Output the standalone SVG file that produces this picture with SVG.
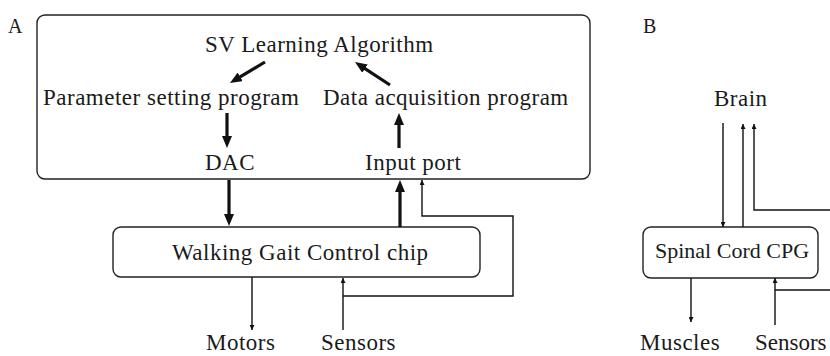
<svg xmlns="http://www.w3.org/2000/svg" width="830" height="356" viewBox="0 0 830 356">
  <defs>
    <style>
      .box { fill: none; stroke: #222; stroke-width: 1.4; }
      .lbl { font-family: "Liberation Serif", "Times New Roman", serif; font-size: 23px; letter-spacing: 0.5px; fill: #1a1a1a; }
      .tag { font-family: "Liberation Serif", "Times New Roman", serif; font-size: 20px; fill: #1a1a1a; }
      .thick { fill: none; stroke: #111; stroke-width: 3.2; }
      .thin { fill: none; stroke: #111; stroke-width: 1.4; }
    </style>
    <marker id="bigHead" markerUnits="userSpaceOnUse" viewBox="0 0 12 10" refX="6" refY="5" markerWidth="12" markerHeight="10" orient="auto">
      <path d="M0,0 L12,5 L0,10 Z" fill="#111"/>
    </marker>
    <marker id="smallHead" markerUnits="userSpaceOnUse" viewBox="0 0 5 5" refX="5" refY="2.5" markerWidth="5" markerHeight="5" orient="auto">
      <path d="M0,0 L5,2.5 L0,5 Z" fill="#111"/>
    </marker>
  </defs>

  <!-- Panel A -->
  <text class="tag" x="8" y="33">A</text>

  <g id="host">
    <rect class="box" x="37" y="15" width="553" height="164" rx="8"/>
    <text class="lbl" x="205" y="52">SV Learning Algorithm</text>
    <text class="lbl" x="43" y="105">Parameter setting program</text>
    <text class="lbl" x="323" y="105">Data acquisition program</text>
    <text class="lbl" x="205" y="170">DAC</text>
    <text class="lbl" x="365" y="170">Input port</text>
  </g>

  <g id="chip">
    <rect class="box" x="113" y="227" width="367" height="50" rx="8"/>
    <text class="lbl" x="172" y="260">Walking Gait Control chip</text>
  </g>

  <g id="motors">
    <text class="lbl" x="206" y="350">Motors</text>
  </g>
  <g id="sensorsA">
    <text class="lbl" x="321" y="350">Sensors</text>
  </g>

  <!-- Panel B -->
  <text class="tag" x="643" y="33">B</text>

  <g id="brain">
    <text class="lbl" x="714" y="106">Brain</text>
  </g>
  <g id="cpg">
    <rect class="box" x="643" y="227" width="175" height="51" rx="8"/>
    <text class="lbl" x="655" y="258" style="font-size:22px;letter-spacing:0">Spinal Cord CPG</text>
  </g>
  <g id="muscles">
    <text class="lbl" x="640" y="350">Muscles</text>
  </g>
  <g id="sensorsB">
    <text class="lbl" x="755" y="350" style="letter-spacing:0">Sensors</text>
  </g>

  <g id="connectors">
    <!-- inside the host -->
    <line class="thick" x1="265" y1="62" x2="235.1" y2="79.9" marker-end="url(#bigHead)"/>
    <line class="thick" x1="390" y1="85" x2="360" y2="65.3" marker-end="url(#bigHead)"/>
    <line class="thick" x1="227" y1="113" x2="227" y2="142" marker-end="url(#bigHead)"/>
    <line class="thick" x1="399" y1="148" x2="399" y2="119" marker-end="url(#bigHead)"/>
    <!-- host to chip and back -->
    <line class="thick" x1="229" y1="180" x2="229" y2="220" marker-end="url(#bigHead)"/>
    <line class="thick" x1="400" y1="227" x2="400" y2="186" marker-end="url(#bigHead)"/>
    <!-- chip to motors, sensors to chip and host -->
    <line class="thin" x1="252" y1="277" x2="252" y2="330" marker-end="url(#smallHead)"/>
    <line class="thin" x1="343" y1="330" x2="343" y2="278" marker-end="url(#smallHead)"/>
    <polyline class="thin" points="343,296 513,296 513,216 422,216 422,180" marker-end="url(#smallHead)"/>

    <!-- panel B -->
    <line class="thin" x1="723" y1="123" x2="723" y2="227" marker-end="url(#smallHead)"/>
    <line class="thin" x1="743" y1="227" x2="743" y2="124" marker-end="url(#smallHead)"/>
    <polyline class="thin" points="831,210 754,210 754,124" marker-end="url(#smallHead)"/>
    <line class="thin" x1="691" y1="278" x2="691" y2="322" marker-end="url(#smallHead)"/>
    <line class="thin" x1="775" y1="325" x2="775" y2="278" marker-end="url(#smallHead)"/>
    <line class="thin" x1="775" y1="290" x2="831" y2="290"/>
  </g>
</svg>
